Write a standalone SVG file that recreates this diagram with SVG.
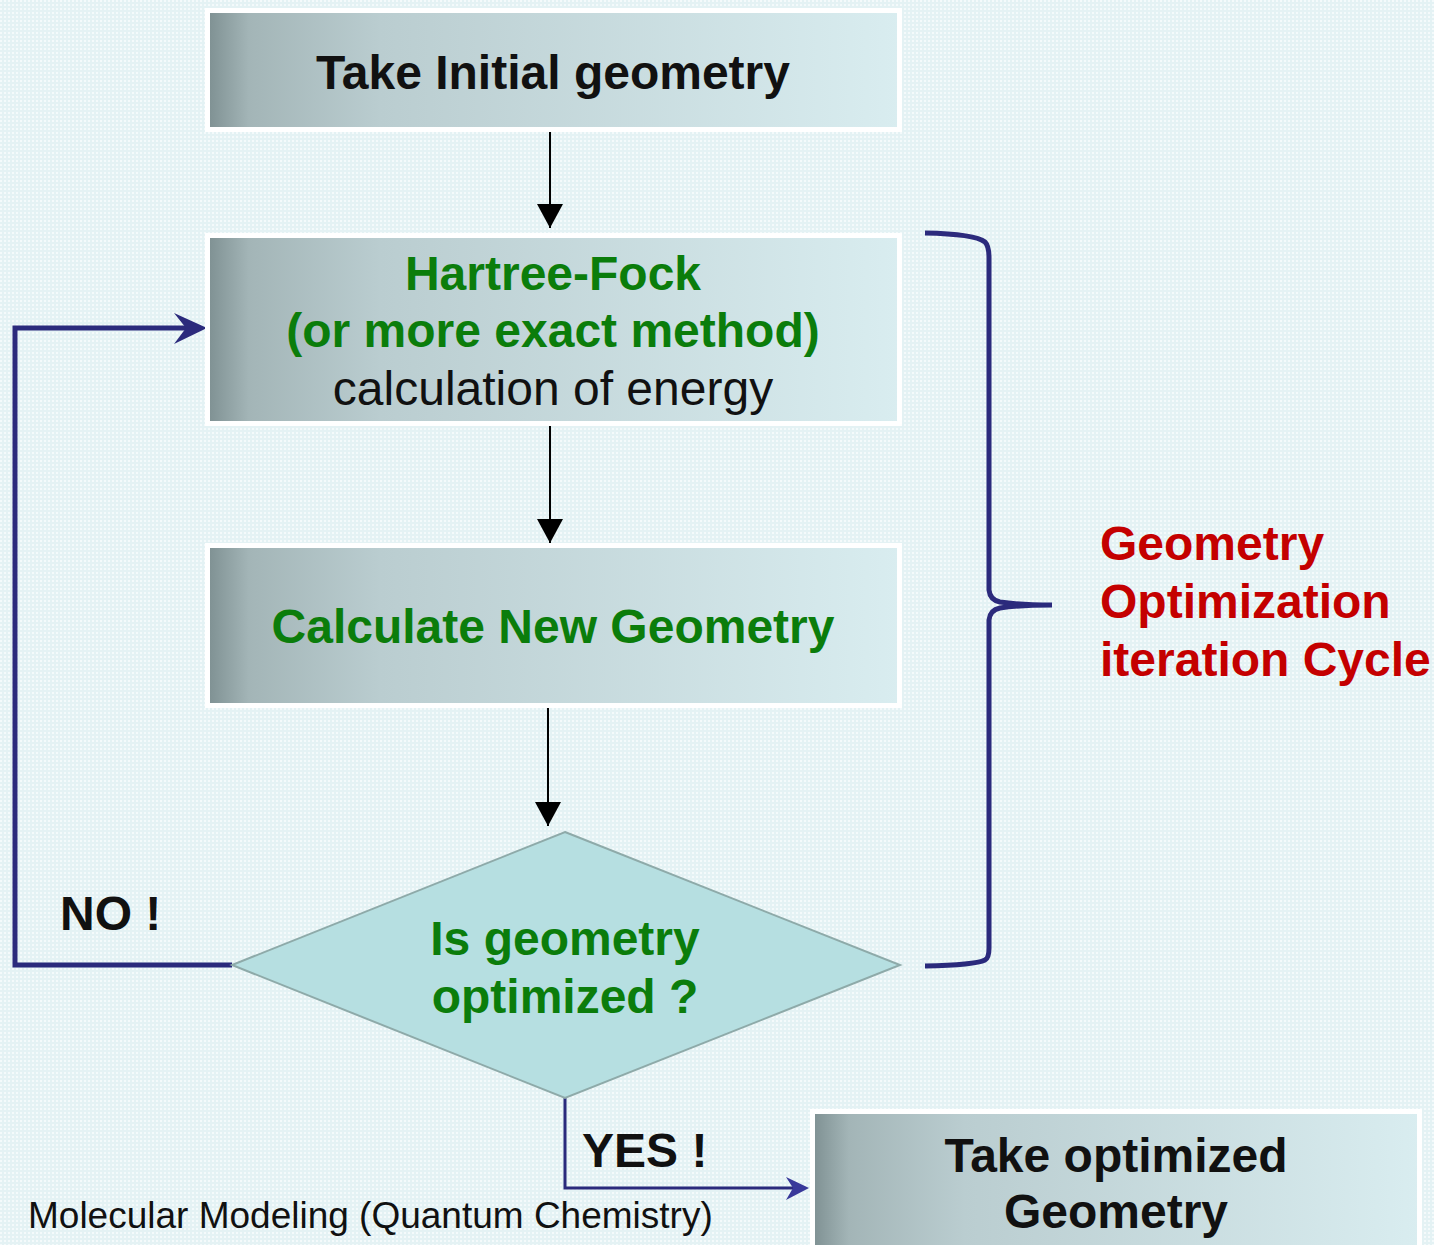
<svg xmlns="http://www.w3.org/2000/svg" width="1434" height="1245" viewBox="0 0 1434 1245">
<defs>
<pattern id="bgp" width="4" height="4" patternUnits="userSpaceOnUse">
<rect width="4" height="4" fill="#e4f2f4"/>
<rect x="0" y="0" width="2" height="2" fill="#f4fafb"/>
</pattern>
<linearGradient id="boxg" x1="0" y1="0" x2="1" y2="0">
<stop offset="0" stop-color="#7e9092"/>
<stop offset="0.06" stop-color="#a3b5b7"/>
<stop offset="0.25" stop-color="#bacdd0"/>
<stop offset="1" stop-color="#d9edf0"/>
</linearGradient>
<marker id="ah" markerWidth="24" markerHeight="26" refX="24" refY="13" orient="auto" markerUnits="userSpaceOnUse">
<path d="M0,0 L24,13 L0,26 Z" fill="#000"/>
</marker>
</defs>
<style>
.box{fill:url(#boxg);stroke:#ffffff;stroke-width:5}
.t{font-family:"Liberation Sans",Arial,sans-serif;font-size:48px;text-anchor:middle}
.b{font-weight:bold}
.k{fill:#111}
.g{fill:#0b7d0b}
.r{fill:#c40000;font-weight:bold;font-family:"Liberation Sans",Arial,sans-serif;font-size:48px}
.blk{stroke:#000;stroke-width:2;fill:none}
.blue{stroke:#2b2a7c;fill:none}
</style>
<rect width="1434" height="1245" fill="url(#bgp)"/>

<g id="connectors">
<line class="blk" x1="550" y1="130" x2="550" y2="228" marker-end="url(#ah)"/>
<line class="blk" x1="550" y1="424" x2="550" y2="543" marker-end="url(#ah)"/>
<line class="blk" x1="548" y1="706" x2="548" y2="826" marker-end="url(#ah)"/>
<polyline class="blue" stroke-width="5" points="232,965 15,965 15,328 190,328"/>
<path d="M207,328 L174,313 L186,328 L174,344 Z" fill="#2b2a7c"/>
<polyline class="blue" stroke="#38389a" stroke-width="3" points="565,1098 565,1188 805,1188"/>
<path d="M809,1188 L786,1177 L793,1188 L786,1200 Z" fill="#38389a"/>
</g>

<g id="brace">
<path class="blue" stroke-width="5" d="M925,233 Q975,234 985,242 Q989,246 989,258 L989,590 Q990,600 1000,602 Q1020,605 1052,605 Q1020,605 1000,608 Q990,610 989,620 L989,948 Q989,958 985,960 Q975,965 925,966"/>
</g>

<g id="n1">
<rect class="box" x="207.5" y="10.5" width="692" height="119"/>
<text class="t b k" x="553" y="89">Take Initial geometry</text>
</g>

<g id="n2">
<rect class="box" x="207.5" y="235.5" width="692" height="188"/>
<text class="t b g" x="553" y="290">Hartree-Fock</text>
<text class="t b g" x="553" y="347">(or more exact method)</text>
<text class="t k" x="553" y="405">calculation of energy</text>
</g>

<g id="n3">
<rect class="box" x="207.5" y="545.5" width="692" height="160"/>
<text class="t b g" x="553" y="643">Calculate New Geometry</text>
</g>

<g id="n4">
<polygon points="565,832 900,965 565,1098 232,965" fill="#b6dfe1" stroke="#8eaaa9" stroke-width="2"/>
<text class="t b g" x="565" y="955">Is geometry</text>
<text class="t b g" x="565" y="1013">optimized ?</text>
</g>

<g id="n5">
<rect class="box" x="812.5" y="1111.5" width="607" height="140"/>
<text class="t b k" x="1116" y="1172">Take optimized</text>
<text class="t b k" x="1116" y="1228">Geometry</text>
</g>

<g id="labels">
<text class="t b k" x="60" y="930" style="text-anchor:start">NO !</text>
<text class="t b k" x="582" y="1167" style="text-anchor:start">YES !</text>
<text class="r" x="1100" y="560">Geometry</text>
<text class="r" x="1100" y="618">Optimization</text>
<text class="r" x="1100" y="676">iteration Cycle</text>
<text x="28" y="1228" style="font-family:'Liberation Sans',Arial,sans-serif;font-size:37px;fill:#111">Molecular Modeling (Quantum Chemistry)</text>
</g>
</svg>
